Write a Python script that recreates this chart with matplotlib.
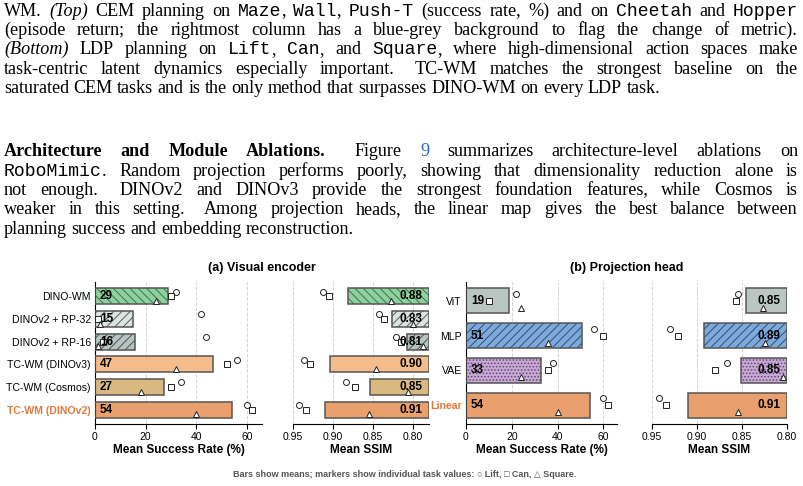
import numpy as np
import matplotlib
matplotlib.use('Agg')
import matplotlib.pyplot as plt

# ---------------- data ----------------
enc_labels = ['DINO-WM', 'DINOv2 + RP-32', 'DINOv2 + RP-16',
              'TC-WM (DINOv3)', 'TC-WM (Cosmos)', 'TC-WM (DINOv2)']
enc_sr_lift = [32, 42, 44, 56, 34, 60]
enc_sr_can = [30, 1, 3, 52, 30, 62]
enc_sr_square = [24, 2, 1, 32, 18, 40]
enc_ssim_lift = [0.912, 0.843, 0.821, 0.936, 0.884, 0.942]
enc_ssim_can = [0.905, 0.836, 0.815, 0.929, 0.872, 0.934]
enc_ssim_square = [0.828, 0.800, 0.787, 0.846, 0.806, 0.855]

head_labels = ['ViT', 'MLP', 'VAE', 'Linear']
head_sr_lift = [22, 56, 38, 60]
head_sr_can = [10, 60, 36, 62]
head_sr_square = [24, 36, 24, 40]
head_ssim_lift = [0.854, 0.930, 0.867, 0.942]
head_ssim_can = [0.857, 0.921, 0.880, 0.934]
head_ssim_square = [0.827, 0.825, 0.805, 0.855]

enc_colors = ['#8fd19e', '#dce3e1', '#b7c4c2', '#f5bd8b', '#d9b97f', '#e9a06d']
enc_hatch = ['\\\\\\\\', '////', '////', '', '', '']
enc_hcolor = ['#3d7449', '#59625f', '#4c5755', '#555555', '#555555', '#555555']
head_colors = ['#b9c6c1', '#7eaadb', '#c9a8d8', '#e9a06d']
head_hatch = ['', '////', '.....', '']
head_hcolor = ['#555555', '#2d4f78', '#5d4a68', '#555555']

para1 = [
    "WM. *(Top)* CEM planning on `Maze`, `Wall`, `Push-T` (success rate, %) and on `Cheetah` and `Hopper`",
    "(episode return; the rightmost column has a blue-grey background to flag the change of metric).",
    "*(Bottom)* LDP planning on `Lift`, `Can`, and `Square`, where high-dimensional action spaces make",
    "task-centric latent dynamics especially important.  TC-WM matches the strongest baseline on the",
    "saturated CEM tasks and is the only method that surpasses DINO-WM on every LDP task.",
]
para2 = [
    "**Architecture and Module Ablations.**  Figure [9] summarizes architecture-level ablations on",
    "`RoboMimic`. Random projection performs poorly, showing that dimensionality reduction alone is",
    "not enough.  DINOv2 and DINOv3 provide the strongest foundation features, while Cosmos is",
    "weaker in this setting.  Among projection heads, the linear map gives the best balance between",
    "planning success and embedding reconstruction.",
]

W, H = 804, 486
fig = plt.figure(figsize=(W / 100, H / 100), dpi=100)
renderer = fig.canvas.get_renderer()

# ---------------- justified paragraph text ----------------
SERIF, MONO = 'Liberation Serif', 'Liberation Mono'
PROPS = {
    'r': dict(family=SERIF),
    'i': dict(family=SERIF, style='italic'),
    'b': dict(family=SERIF, weight='bold'),
    't': dict(family=MONO),
    'l': dict(family=SERIF, color='#2a64d2'),
}
X0, X1 = 4, 798
LAST_END = 668   # where the last caption line stops in the page


def parse(line):
    st = {'b': False, 'i': False, 't': False, 'l': False}
    chars = []
    i = 0
    while i < len(line):
        if line.startswith('**', i):
            st['b'] = not st['b']; i += 2; continue
        c = line[i]
        if c == '*':
            st['i'] = not st['i']; i += 1; continue
        if c == '`':
            st['t'] = not st['t']; i += 1; continue
        if c == '[':
            st['l'] = True; i += 1; continue
        if c == ']':
            st['l'] = False; i += 1; continue
        key = 'b' if st['b'] else 'i' if st['i'] else 't' if st['t'] else 'l' if st['l'] else 'r'
        chars.append((c, key))
        i += 1
    words, weights, cur, nsp = [], [], [], 0
    for c, k in chars:
        if c == ' ':
            nsp += 1
            continue
        if nsp and cur:
            words.append(cur)
            weights.append(1 + 0.6 * (nsp - 1))
            cur = []
        nsp = 0
        if cur and cur[-1][1] == k:
            cur[-1][0] += c
        else:
            cur.append([c, k])
    if cur:
        words.append(cur)
    return words, weights


def text_width(s, key, fs):
    t = fig.text(0, 0, s, fontsize=fs, **PROPS[key])
    w = t.get_window_extent(renderer).width
    t.remove()
    return w


def natural_width(line, fs):
    words, weights = parse(line)
    sp = text_width('a a', 'r', fs) - text_width('aa', 'r', fs)
    return sum(text_width(s, k, fs) for wd in words for s, k in wd) + sp * sum(weights)


FS = 11.7 * (LAST_END - X0) / natural_width(para1[-1], 11.7)
SPACE = text_width('a a', 'r', FS) - text_width('aa', 'r', FS)


def draw_line(line, y, justify):
    words, weights = parse(line)
    widths = [[text_width(s, k, FS) for s, k in wd] for wd in words]
    total = sum(sum(ws) for ws in widths)
    gap = (X1 - X0 - total) / sum(weights) if justify else SPACE
    x = X0
    for i, (wd, ws) in enumerate(zip(words, widths)):
        for (s, k), wi in zip(wd, ws):
            fig.text(x / W, 1 - y / H, s, fontsize=FS, va='baseline', ha='left', **PROPS[k])
            x += wi
        if i < len(weights):
            x += gap * weights[i]


for j, ln in enumerate(para1):
    draw_line(ln, 15.5 + 19.4 * j, j < len(para1) - 1)
for j, ln in enumerate(para2):
    draw_line(ln, 156 + 19.5 * j, j < len(para2) - 1)

# ---------------- chart ----------------
SANS = ['Liberation Sans', 'DejaVu Sans']
plt.rcParams['font.family'] = SANS
plt.rcParams['hatch.linewidth'] = 0.7
HIGHLIGHT = '#e07a3c'

ax_b, ax_h = (H - 424) / H, 142 / H
ax1 = fig.add_axes([95 / W, ax_b, 167 / W, ax_h])
ax2 = fig.add_axes([293 / W, ax_b, 136 / W, ax_h])
ax3 = fig.add_axes([466 / W, ax_b, 151 / W, ax_h])
ax4 = fig.add_axes([652 / W, ax_b, 135 / W, ax_h])


def panel(ax, lift, can, square, colors, hatches, hcolors, base, ssim):
    lift, can, square = map(np.array, (lift, can, square))
    means = (lift + can + square) / 3
    y = np.arange(len(means))
    ax.barh(y, means - base, left=base, height=0.7, color=colors, hatch=hatches,
            edgecolor=hcolors, linewidth=0, zorder=2)
    ax.barh(y, means - base, left=base, height=0.7, fill=False,
            edgecolor='#555555', linewidth=1.1, zorder=3)
    ax.plot(lift, y - 0.2, 'o', ms=4.3, mfc='white', mec='#222222', mew=0.7, zorder=4)
    ax.plot(can, y, 's', ms=3.9, mfc='white', mec='#222222', mew=0.7, zorder=4)
    ax.plot(square, y + 0.2, '^', ms=4.0, mfc='white', mec='#222222', mew=0.7, zorder=4)
    for yi, m in zip(y, means):
        if ssim:
            ax.annotate(f'{m:.2f}', (base, yi), xytext=(-5, 0), textcoords='offset points',
                        ha='right', va='center', fontsize=8.5, fontweight='bold', zorder=5)
        else:
            ax.annotate(f'{m:.0f}', (base, yi), xytext=(3.5, 0), textcoords='offset points',
                        ha='left', va='center', fontsize=8.5, fontweight='bold', zorder=5)
    ax.invert_yaxis()
    ax.set_axisbelow(True)
    ax.grid(axis='x', ls='--', color='#d2d2d2', lw=0.7)
    ax.spines['top'].set_visible(False)
    ax.spines['right'].set_visible(False)
    ax.tick_params(axis='x', labelsize=7.5, length=3.5, width=0.8, pad=2)
    ax.tick_params(axis='y', length=0, pad=3, labelsize=7.6)
    if ssim:
        ax.set_xlim(0.95, base)
        ax.set_xticks([0.95, 0.90, 0.85, 0.80], ['0.95', '0.90', '0.85', '0.80'])
        ax.spines['left'].set_visible(False)
        ax.set_yticks([])
        ax.set_xlabel('Mean SSIM', fontsize=8.5, fontweight='bold', labelpad=1.5)
    else:
        ax.set_xlim(0, 66)
        ax.set_xticks([0, 20, 40, 60])
        ax.set_xlabel('Mean Success Rate (%)', fontsize=8.5, fontweight='bold', labelpad=1.5)


panel(ax1, enc_sr_lift, enc_sr_can, enc_sr_square, enc_colors, enc_hatch, enc_hcolor, 0, False)
panel(ax2, enc_ssim_lift, enc_ssim_can, enc_ssim_square, enc_colors, enc_hatch, enc_hcolor, 0.78, True)
panel(ax3, head_sr_lift, head_sr_can, head_sr_square, head_colors, head_hatch, head_hcolor, 0, False)
panel(ax4, head_ssim_lift, head_ssim_can, head_ssim_square, head_colors, head_hatch, head_hcolor, 0.80, True)

for ax, labels in ((ax1, enc_labels), (ax3, head_labels)):
    ax.set_yticks(range(len(labels)), labels)
    last = ax.get_yticklabels()[-1]
    last.set_color(HIGHLIGHT)
    last.set_fontweight('bold')

fig.text(262 / W, 1 - 268 / H, '(a) Visual encoder', ha='center', va='center',
         fontsize=9, fontweight='bold')
fig.text(627 / W, 1 - 268 / H, '(b) Projection head', ha='center', va='center',
         fontsize=9, fontweight='bold')
fig.text(405 / W, 1 - 474 / H,
         'Bars show means; markers show individual task values: \u25cb Lift, \u25a1 Can, \u25b3 Square.',
         ha='center', va='center', fontsize=6.5, fontweight='bold', color='#555555', family=SANS)

fig.savefig('out.png', dpi=100)
